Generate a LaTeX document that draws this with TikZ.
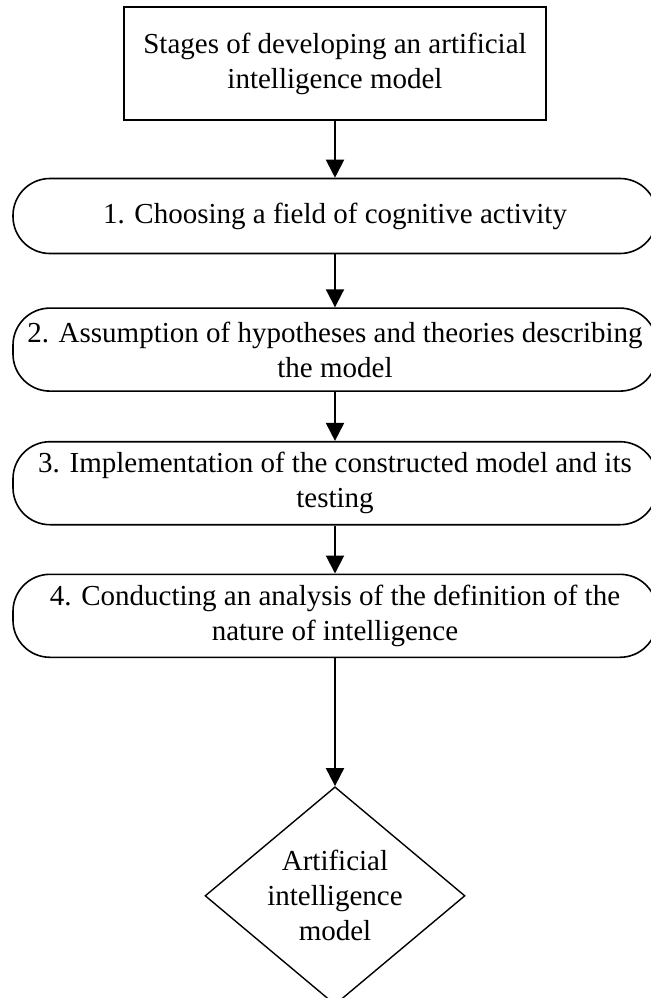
\documentclass[tikz,border=0pt]{standalone}
\usepackage{fontspec}
\setmainfont{Liberation Serif}
\usetikzlibrary{arrows.meta,positioning,shapes.geometric}

\begin{document}
\begin{tikzpicture}[node distance=26pt,
  txt/.style={font=\fontsize{14.5pt}{17.5pt}\selectfont, align=center, inner sep=0pt},
  box/.style={txt, draw, line width=0.7pt, minimum width=211pt, minimum height=56.5pt},
  stage/.style={txt, draw, line width=0.8pt, rounded corners=18.5pt,
                minimum width=322pt, minimum height=41.5pt},
  goal/.style={txt, draw, line width=0.7pt, diamond, aspect=1.19,
               minimum width=130pt, minimum height=109pt},
  arr/.style={-{Triangle[width=9pt,length=9pt]}, line width=1pt}]
  \useasboundingbox (0,0) rectangle (325pt,-499pt);
  \node[box] (start) at (167.5pt,-31.75pt) {Stages of developing an artificial\\ intelligence model};
  \node[stage, below=28.5pt of start, minimum height=37.5pt] (s1) {1. Choosing a field of cognitive activity};
  \node[stage, below=26.5pt of s1] (s2) {2. Assumption of hypotheses and theories describing\\ the model};
  \node[stage, below=24.5pt of s2] (s3) {3. Implementation of the constructed model and its\\ testing};
  \node[stage, below=24pt of s3] (s4) {4. Conducting an analysis of the definition of the\\ nature of intelligence};
  \node[goal, below=64pt of s4] (model) {Artificial\\ intelligence\\ model};
  \draw[arr] (start) -- (s1);
  \draw[arr] (s1) -- (s2);
  \draw[arr] (s2) -- (s3);
  \draw[arr] (s3) -- (s4);
  \draw[arr] (s4) -- (model);
\end{tikzpicture}
\end{document}
